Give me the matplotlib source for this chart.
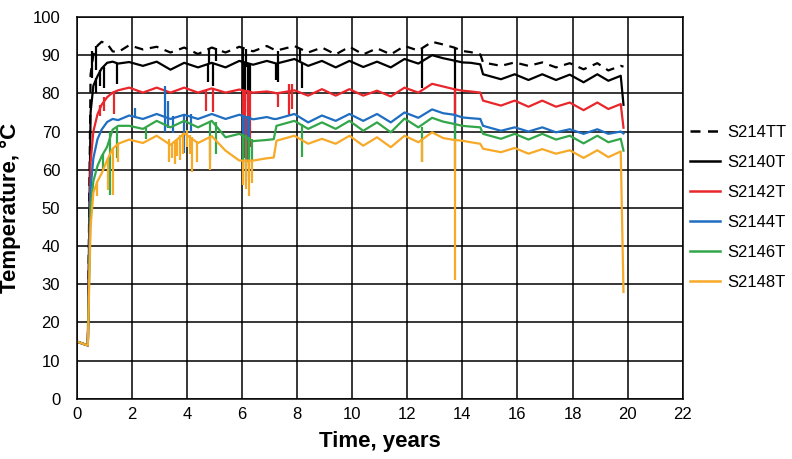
import matplotlib
matplotlib.use("Agg")
import matplotlib.pyplot as plt
from matplotlib.lines import Line2D

plt.rcParams["font.family"] = ["Liberation Sans", "DejaVu Sans"]

# shared time grid, years
t = [0.0, 0.4, 0.45, 0.5, 0.6, 0.75, 0.9, 1.1, 1.3, 1.5, 1.9, 2.4, 2.9, 3.4, 3.9, 4.4, 4.9,
     5.4, 5.9, 6.4, 6.9, 7.15, 7.25, 7.9, 8.4, 8.9, 9.4, 9.9, 10.4, 10.9, 11.4, 11.9, 12.4,
     12.9, 13.3, 13.7, 14.0, 14.3, 14.65, 14.75, 15.4, 15.9, 16.4, 16.9, 17.4, 17.9, 18.4,
     18.9, 19.3, 19.75, 19.85]

s214tt = [15, 14, 50, 85, 90, 92.5, 93.5, 93, 91, 90.8, 92.6, 91.5, 92.2, 90.7, 92, 90.3, 92,
          90.7, 92.2, 91, 92.4, 91.5, 91.2, 92.4, 90.7, 92, 90.2, 92.2, 90.2, 91.8, 90.2, 92.4,
          91.2, 93.5, 92.8, 92, 91.1, 90.8, 90.2, 88.1, 87.2, 88.1, 87.2, 88.1, 86.8, 87.9,
          86.3, 87.9, 86, 87.2, 87]
s2140t = [15, 14, 45, 75, 82, 84.5, 86.5, 88, 88.3, 87.8, 88.2, 87.2, 88.3, 86.2, 88, 86.8, 88,
          86.8, 88.5, 87.5, 88.5, 88, 87.8, 89, 87.2, 88.5, 86.8, 88.5, 86.9, 88.3, 86.8, 89,
          87.8, 90, 89.2, 88.6, 88.1, 88, 87.6, 85, 83.7, 85, 83.5, 85, 83.5, 84.9, 82.9, 85,
          83.3, 84.6, 77]
s2142t = [15, 14, 40, 62, 70, 74.5, 77, 79, 80.2, 80.8, 81.5, 80.2, 81.5, 80.2, 81.5, 80.2, 81.3,
          80.2, 81, 80.2, 80.5, 80.2, 80, 80.8, 79.4, 81.1, 79.4, 81.1, 79.4, 80.7, 79.2, 81.5,
          80.2, 82.5, 81.8, 81.1, 80.7, 80.5, 80.2, 78.1, 76.8, 78.1, 76.5, 78.1, 76.5, 77.6,
          75.6, 77.6, 75.9, 77.2, 71]
s2144t = [15, 14, 35, 55, 63, 68, 70.5, 72.5, 73.3, 73, 74.2, 73.3, 74.6, 73.3, 74.4, 73.3, 74.6,
          73.3, 74.4, 73.2, 73.8, 73.3, 73.3, 74.6, 72.4, 74.2, 72.8, 74.6, 72.8, 74.6, 72.4, 75,
          73.6, 75.8, 74.8, 74.4, 73.7, 73.5, 73.3, 71.5, 70.2, 71.1, 70, 71.1, 69.8, 70.6, 69.4,
          70.6, 69.4, 70, 69.5]
s2146t = [15, 14, 33, 50, 57, 61, 63.5, 66, 70.5, 71.5, 71.5, 70.7, 72.8, 71.1, 72.8, 71.1, 72.8,
          68.5, 69.4, 67.5, 67.8, 68, 71.5, 72.8, 70.7, 72.4, 70.7, 72.8, 70.2, 72.4, 69.8, 73.4,
          71.1, 73.6, 72.6, 72, 71.5, 71.3, 71.1, 69.4, 68.1, 69.4, 67.9, 69.4, 67.9, 68.9, 66.9,
          68.9, 67.2, 68.1, 65]
s2148t = [15, 14, 30, 45, 54, 57, 59, 62.5, 65.5, 66.8, 67.9, 67, 68.9, 66.5, 69.5, 67, 68.8,
          65, 62.4, 62.4, 63, 63.2, 67.6, 68.9, 66.8, 68.1, 66.8, 68.9, 66.3, 68.5, 65.9, 68.9,
          67.2, 69.8, 68.3, 67.8, 67.6, 67.2, 66.8, 65.5, 64.6, 65.7, 64.2, 65.4, 64.2, 65.1,
          63.1, 65.1, 63.3, 64.8, 28]

# short excursions: (time, low, high)
spk_214tt = [(0.55, 84, 91), (0.7, 86, 92.5), (4.8, 88, 91.8), (5.05, 88.5, 92), (6.05, 86, 92),
             (6.15, 87, 91.5), (7.3, 88, 91.2), (8.1, 88.5, 92), (12.55, 88, 91.5), (13.75, 88, 92)]
spk_2140t = [(0.7, 80, 84), (0.85, 82, 86), (1.0, 81.5, 87), (1.45, 82.5, 88), (4.75, 83, 87.5),
             (4.95, 82, 88), (6.05, 76, 88.5), (6.1, 78, 88.3), (6.2, 75, 88), (6.3, 80, 88),
             (7.25, 83.5, 87.8), (7.32, 83, 87.8), (8.17, 81.5, 88), (12.55, 81.5, 88.5),
             (13.75, 74, 88.6)]
spk_2142t = [(0.85, 74, 77), (1.0, 75.5, 79), (1.35, 74.5, 80.2), (4.7, 75.5, 81), (4.95, 75, 81.3),
             (6.05, 65, 81), (6.1, 63, 81), (6.2, 62, 80.8), (6.3, 66, 80.5), (7.3, 76.5, 80),
             (7.7, 74, 82.5), (7.8, 76, 82.5), (13.75, 71, 81.1)]
spk_2144t = [(2.1, 73.5, 76.2), (3.2, 70, 82), (3.3, 71, 78), (3.5, 69.5, 74), (3.9, 64.5, 74.4),
             (4.15, 70, 74.5), (6.05, 63, 74.4), (6.15, 61, 74.2), (6.25, 63, 74), (13.75, 68, 74.4)]
spk_2146t = [(0.95, 60, 64), (1.2, 53.5, 70), (1.45, 63, 71.5), (2.5, 68, 71), (4.85, 62.5, 72.8),
             (5.05, 64, 72.5), (6.05, 60, 69.4), (6.15, 57, 69), (6.25, 58, 68.5), (6.35, 62, 68),
             (8.17, 63.3, 72), (12.55, 62, 71.3), (13.75, 60.3, 72)]
spk_2148t = [(0.75, 53, 57), (1.15, 54.6, 63), (1.3, 53.3, 65.5), (1.5, 62, 66.8), (3.35, 62, 68),
             (3.45, 63, 67), (3.55, 61.5, 67.5), (3.65, 63.5, 68), (3.75, 62.5, 69), (3.85, 64, 69.5),
             (4.0, 66, 70.5), (4.1, 64, 69), (4.2, 59.5, 68.5), (4.35, 62, 67.5), (4.85, 60, 68.8),
             (6.05, 56, 62.4), (6.15, 55, 62.4), (6.25, 53, 62.4), (6.35, 56.5, 62.4),
             (12.55, 62, 67.4), (13.75, 31, 67.8)]

series = [
    ("S214TT", s214tt, spk_214tt, "black", (0, (4, 3))),
    ("S2140T", s2140t, spk_2140t, "black", "-"),
    ("S2142T", s2142t, spk_2142t, "#E8262B", "-"),
    ("S2144T", s2144t, spk_2144t, "#1F6EC1", "-"),
    ("S2146T", s2146t, spk_2146t, "#33A64A", "-"),
    ("S2148T", s2148t, spk_2148t, "#F7A928", "-"),
]

fig = plt.figure(figsize=(7.92, 4.59), dpi=100)
ax = fig.add_axes([0.097, 0.131, 0.765, 0.832])

handles = []
for name, vals, spikes, color, ls in series:
    ax.plot(t, vals, color=color, lw=1.6, ls=ls)
    ax.vlines([s[0] for s in spikes], [s[1] for s in spikes], [s[2] for s in spikes],
              color=color, lw=1.6)
    handles.append(Line2D([], [], color=color, lw=1.8, ls=ls, label=name))

ax.set_xlim(0, 22)
ax.set_ylim(0, 100)
ax.set_xticks(range(0, 23, 2))
ax.set_yticks(range(0, 101, 10))
ax.grid(True, color="black", lw=1.1)
ax.set_axisbelow(True)
for sp in ax.spines.values():
    sp.set_color("black")
    sp.set_linewidth(1.1)
ax.tick_params(axis="both", length=0, labelsize=12)
ax.tick_params(axis="y", pad=12)
ax.tick_params(axis="x", pad=6)
ax.set_xlabel("Time, years", fontsize=16, fontweight="bold", labelpad=6)
ax.set_ylabel("Temperature, °C", fontsize=16, fontweight="bold", labelpad=8)

fig.legend(handles=handles, loc="center left", bbox_to_anchor=(0.861, 0.548), frameon=False,
           fontsize=12, handlelength=1.8, handletextpad=0.4, labelspacing=0.9, borderpad=0)

fig.savefig("out.png", dpi=100)
